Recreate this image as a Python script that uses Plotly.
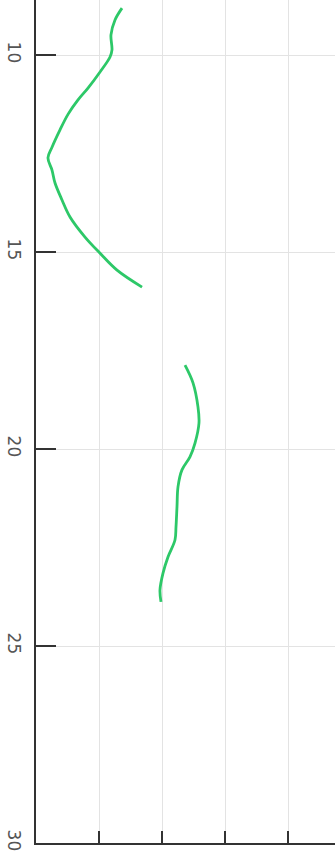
import plotly.graph_objects as go

# Profile 1 (upper segment)
depth_1 = [8.81, 9.11, 9.49, 9.87, 10.05, 10.43, 10.84, 11.14, 11.50, 11.90, 12.34, 12.61,
           12.92, 13.25, 13.68, 14.11, 14.62, 15.03, 15.46, 15.89]
value_1 = [1.365, 1.254, 1.190, 1.206, 1.175, 1.016, 0.825, 0.667, 0.510, 0.381, 0.254, 0.190,
           0.254, 0.302, 0.413, 0.540, 0.778, 1.016, 1.286, 1.683]
# Profile 2 (lower segment)
depth_2 = [17.87, 18.32, 18.93, 19.34, 19.85, 20.20, 20.53, 20.96, 21.47, 21.98, 22.31,
           22.74, 23.15, 23.58, 23.88]
value_2 = [2.365, 2.492, 2.571, 2.587, 2.524, 2.444, 2.317, 2.254, 2.238, 2.222, 2.206,
           2.095, 2.016, 1.968, 1.984]

y_ticks = [10, 15, 20, 25, 30]
x_ticks = [1, 2, 3, 4]

xs = value_1 + [None] + value_2
ys = depth_1 + [None] + depth_2

fig = go.Figure()
fig.add_trace(go.Scatter(x=xs, y=ys, mode="lines", connectgaps=False,
                         line=dict(color="#2dc868", width=2.8, shape="spline", smoothing=1.0),
                         showlegend=False, hoverinfo="skip"))

fig.update_layout(
    width=335, height=859,
    margin=dict(l=36, r=0, t=0, b=16),
    plot_bgcolor="white", paper_bgcolor="white",
    font=dict(family="DejaVu Sans", size=17, color="#555"),
)
fig.update_xaxes(range=[0, 4.746], tickvals=x_ticks, showticklabels=False,
                 ticks="inside", ticklen=12, tickcolor="#333", tickwidth=1.5,
                 showline=True, linecolor="#333", linewidth=1.5,
                 showgrid=True, gridcolor="#e3e3e3", gridwidth=1, zeroline=False)
fig.update_yaxes(range=[30, 8.604], tickvals=y_ticks, tickangle=90,
                 ticks="inside", ticklen=20, tickcolor="#333", tickwidth=1.5,
                 ticklabelstandoff=6,
                 showline=True, linecolor="#333", linewidth=1.5,
                 showgrid=True, gridcolor="#e3e3e3", gridwidth=1, zeroline=False)

fig.write_html("out.html")
